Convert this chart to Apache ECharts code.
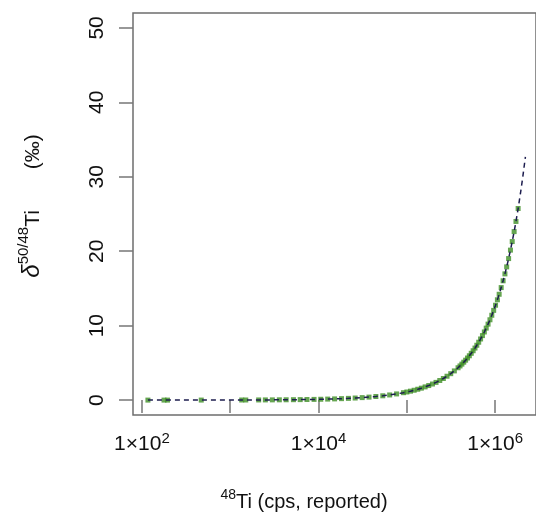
<!DOCTYPE html>
<html><head><meta charset="utf-8">
<script src="https://cdn.jsdelivr.net/npm/echarts@6/dist/echarts.min.js"></script>
<style>html,body{margin:0;padding:0;background:#fff}#c{width:536px;height:521px}</style>
</head><body><div id="c"></div>
<script>
// measured 48Ti count rates (cps, reported)
const pointsX = [117, 178, 195, 470, 1350, 1500, 2100, 2500, 3000, 3600, 4300, 5200, 6200, 7400, 8900, 10600, 12700, 15200, 18200, 21800, 26000, 31200, 37300, 44600, 53400, 63900, 76500, 91500,
  100000, 110000, 121000, 133000, 146000, 161000, 177000, 195000, 214000, 236000, 259000, 285000, 314000, 345000, 380000,
  400000, 420000, 441000, 463000, 486000, 510000, 536000, 563000, 591000, 620000, 651000, 684000, 718000, 754000, 792000, 831000, 873000, 916000, 962000,
  1010000, 1060000, 1110000, 1170000, 1230000, 1290000, 1350000, 1420000, 1490000, 1560000, 1640000, 1720000, 1820000];
// delta 50/48 Ti (permil)
const pointsY = [0.001, 0.002, 0.002, 0.005, 0.014, 0.016, 0.023, 0.027, 0.032, 0.039, 0.046, 0.056, 0.066, 0.079, 0.096, 0.114, 0.136, 0.163, 0.196, 0.235, 0.280, 0.336, 0.403, 0.482, 0.578, 0.693, 0.831, 0.997,
  1.091, 1.202, 1.325, 1.459, 1.605, 1.775, 1.956, 2.162, 2.380, 2.635, 2.902, 3.208, 3.551, 3.922, 4.345,
  4.589, 4.834, 5.093, 5.366, 5.654, 5.956, 6.286, 6.631, 6.992, 7.369, 7.775, 8.212, 8.666, 9.152, 9.670, 10.207, 10.791, 11.397, 12.052,
  12.745, 13.476, 14.216, 15.116, 16.030, 16.957, 17.898, 19.013, 20.147, 21.298, 22.637, 24.000, 25.737];
// extension of the dashed curve beyond the last point
const fitExtX = [1920000, 2050000, 2200000];
const fitExtY = [27.514, 29.877, 32.684];
const xTickValues = [100, 1000, 10000, 100000, 1000000];
const xLabelValues = [100, 10000, 1000000];
const yTickValues = [0, 10, 20, 30, 40, 50];

const FONT = '"Liberation Sans", Arial, Helvetica, sans-serif';
const points = pointsX.map((x, i) => [x, pointsY[i]]);
const fitLine = points.concat(fitExtX.map((x, i) => [x, fitExtY[i]]));

const chart = echarts.init(document.getElementById('c'), null, {renderer: 'canvas'});
chart.setOption({
  animation: false,
  backgroundColor: '#fff',
  grid: {left: 133, top: 13, right: -4, bottom: 106, show: true, borderColor: '#6e6e6e', borderWidth: 1.5, backgroundColor: 'transparent'},
  xAxis: {
    type: 'log', logBase: 10, min: 79.3, max: 2900000,
    axisLine: {show: false}, splitLine: {show: false}, minorTick: {show: false},
    axisTick: {show: true, customValues: xTickValues, length: 13, lineStyle: {color: '#777', width: 1.5}},
    axisLabel: {
      customValues: xLabelValues, margin: 16, color: '#111', fontFamily: FONT, fontSize: 21,
      formatter: v => '{b|1×10}{s|' + Math.round(Math.log10(v)) + '}',
      rich: {
        b: {fontFamily: FONT, fontSize: 21, color: '#111', verticalAlign: 'bottom', lineHeight: 24},
        s: {fontFamily: FONT, fontSize: 15, color: '#111', verticalAlign: 'top', lineHeight: 24}
      }
    }
  },
  yAxis: {
    type: 'value', min: -2, max: 52,
    axisLine: {show: false}, splitLine: {show: false},
    axisTick: {show: true, customValues: yTickValues, length: 14, lineStyle: {color: '#777', width: 1.5}},
    axisLabel: {customValues: yTickValues, rotate: 90, align: 'center', verticalAlign: 'bottom', margin: 25, color: '#111', fontFamily: FONT, fontSize: 21}
  },
  graphic: [
    {type: 'text', x: 30, y: 206, rotation: Math.PI / 2,
     style: {text: '{i|δ}{s|50/48}{n|Ti}       {n|(‰)}', fill: '#111', fontFamily: FONT, fontSize: 21, align: 'center', verticalAlign: 'middle',
       rich: {
         i: {fontFamily: FONT, fontSize: 24, fontStyle: 'italic', fill: '#111', verticalAlign: 'bottom', lineHeight: 28},
         s: {fontFamily: FONT, fontSize: 15, fill: '#111', verticalAlign: 'top', lineHeight: 28},
         n: {fontFamily: FONT, fontSize: 21, fill: '#111', verticalAlign: 'bottom', lineHeight: 28}
       }}},
    {type: 'text', x: 304, y: 500,
     style: {text: '{s|48}{n|Ti (cps, reported)}', fill: '#111', fontFamily: FONT, fontSize: 20, align: 'center', verticalAlign: 'middle',
       rich: {
         s: {fontFamily: FONT, fontSize: 14, fill: '#111', verticalAlign: 'top', lineHeight: 24},
         n: {fontFamily: FONT, fontSize: 20, fill: '#111', verticalAlign: 'bottom', lineHeight: 24}
       }}}
  ],
  series: [
    {type: 'scatter', data: points, symbol: 'rect', symbolSize: 5, itemStyle: {color: '#3f8f25'}, z: 2},
    {type: 'line', data: fitLine, symbol: 'none', showSymbol: false, smooth: false,
     lineStyle: {color: '#1c1c4e', width: 1.5, type: [5, 4]}, z: 3}
  ]
});
</script>
</body></html>
